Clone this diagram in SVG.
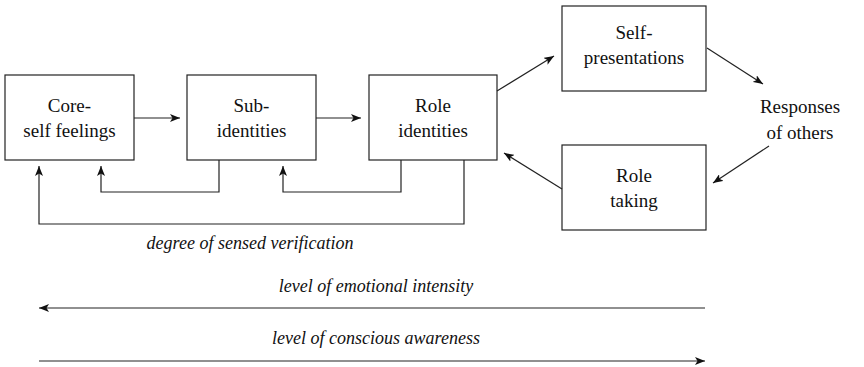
<svg xmlns="http://www.w3.org/2000/svg" width="864" height="367" viewBox="0 0 864 367">
<defs>
<marker id="ah" viewBox="0 0 10 8" refX="10" refY="4" markerWidth="10" markerHeight="8" markerUnits="userSpaceOnUse" orient="auto">
<path d="M0,0 L10,4 L0,8 L2.5,4 Z" fill="#111"/>
</marker>
</defs>
<style>
.box{fill:#fff;stroke:#222;stroke-width:1.2}
.t{font-size:19px;fill:#111;text-anchor:middle}
.i{font-size:18px;font-style:italic;fill:#111;text-anchor:middle}
.c{fill:none;stroke:#222;stroke-width:1.2}
</style>
<rect width="864" height="367" fill="#fff"/>
<g font-family="Liberation Serif, Times New Roman, serif">
<g id="core">
<rect class="box" x="5" y="75" width="129" height="85"/>
<text class="t" x="69.5" y="112">Core-</text>
<text class="t" x="69.5" y="137">self feelings</text>
</g>
<g id="sub">
<rect class="box" x="187" y="75" width="129" height="85"/>
<text class="t" x="251.5" y="112">Sub-</text>
<text class="t" x="251.5" y="137">identities</text>
</g>
<g id="role">
<rect class="box" x="369" y="75" width="128" height="85"/>
<text class="t" x="433" y="112">Role</text>
<text class="t" x="433" y="137">identities</text>
</g>
<g id="selfpres">
<rect class="box" x="562" y="6" width="144" height="85"/>
<text class="t" x="634" y="39">Self-</text>
<text class="t" x="634" y="64">presentations</text>
</g>
<g id="responses">
<text class="t" x="800" y="113">Responses</text>
<text class="t" x="800" y="139">of others</text>
</g>
<g id="roletaking">
<rect class="box" x="562" y="145" width="144" height="85"/>
<text class="t" x="634" y="182">Role</text>
<text class="t" x="634" y="207">taking</text>
</g>
<g id="connectors">
<line class="c" x1="134" y1="118" x2="180" y2="118" marker-end="url(#ah)"/>
<line class="c" x1="316" y1="118" x2="361" y2="118" marker-end="url(#ah)"/>
<line class="c" x1="497" y1="91" x2="554" y2="56" marker-end="url(#ah)"/>
<line class="c" x1="707" y1="48" x2="763" y2="84" marker-end="url(#ah)"/>
<line class="c" x1="769" y1="146" x2="713" y2="183" marker-end="url(#ah)"/>
<line class="c" x1="562" y1="189" x2="504" y2="153" marker-end="url(#ah)"/>
<polyline class="c" points="219,160 219,192 101,192 101,166" marker-end="url(#ah)"/>
<polyline class="c" points="401,160 401,192 283,192 283,166" marker-end="url(#ah)"/>
<polyline class="c" points="464,160 464,224 39,224 39,166" marker-end="url(#ah)"/>
<line class="c" x1="705" y1="308" x2="39" y2="308" marker-end="url(#ah)"/>
<line class="c" x1="39" y1="361" x2="705" y2="361" marker-end="url(#ah)"/>
</g>
<text class="i" x="250" y="249">degree of sensed verification</text>
<text class="i" x="376" y="292">level of emotional intensity</text>
<text class="i" x="376" y="344">level of conscious awareness</text>
</g>
</svg>
